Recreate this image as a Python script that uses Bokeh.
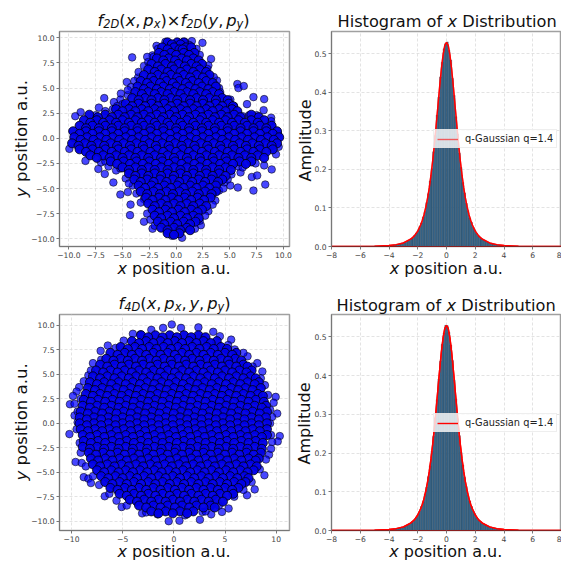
from bokeh.plotting import figure
from bokeh.layouts import gridplot, column
from bokeh.models import Label, FixedTicker, Legend, LegendItem
from bokeh.embed import file_html
from bokeh.resources import INLINE

# ---------- data ----------
edge_2d = [(1.46,9.67),(2.45,9.5),(-1.83,9.2),(-2.2,8.25),(-2.7,8.1),(-4.1,8.05),(3.25,7.9),(-3.0,7.2),(3.0,7.25),(-3.55,6.05),(-4.6,5.6),(3.8,5.75),(4.0,5.0),(5.7,5.4),(5.8,5.0),(6.3,5.2),(-5.15,4.45),(-4.5,4.3),(-6.7,4.0),(-5.2,3.85),(-5.8,3.6),(5.05,3.85),(7.2,4.1),(8.2,3.9),(6.6,3.4),(8.15,2.8),(-7.2,3.05),(-8.9,2.6),(-9.4,2.2),(8.85,2.05),(8.85,1.7),(-9.95,-1.05),(-8.45,-2.25),(-7.25,-3.05),(-6.65,-3.55),(-5.85,-4.4),(-5.2,-5.6),(-4.5,-5.35),(-4.25,-6.6),(-4.3,-7.65),(-4.05,-4.7),(-3.0,-6.05),(-3.0,-8.3),(-2.2,-9.0),(3.65,-6.2),(3.0,-7.25),(2.3,-8.65),(0.55,-9.9),(-0.4,-9.7),(1.75,-9.0),(5.05,-4.7),(5.75,-4.9),(6.0,-3.4),(5.15,-3.6),(7.05,-3.85),(7.55,-3.7),(7.2,-5.2),(8.3,-4.6),(8.2,-2.7),(8.9,-3.1),(9.3,-1.6),(9.55,-0.85),(9.5,0.45),
(-7.5,2.3),(-6.6,2.7),(-5.9,2.9),(-5.5,3.2),(-5.0,3.4),(4.9,3.4),(5.4,3.2),(6.2,2.2),(6.8,2.3),(7.5,2.3),(7.0,1.9),(-7.0,-2.4),(-6.6,-2.3),(-6.3,-2.8),(-5.6,-3.2),(-5.2,-3.0),(5.8,-2.8),(6.2,-2.9),(7.4,-2.5),(-4.7,-4.0),(-4.4,-4.5),(4.5,-4.4),(4.8,-4.1),(-3.7,-5.5),(4.0,-5.2),(4.4,-5.0),(-3.3,-6.4),(3.4,-6.6),(-2.7,-7.5),(2.7,-7.7),(-2.4,-8.1),(-2.0,-8.7),(2.2,-8.2),(-3.5,6.6),(-3.9,5.7),(-4.2,5.1),(-4.5,4.8),(4.1,4.6),(3.6,5.3),(3.5,6.1),(2.9,6.9),(-2.6,7.6),(-2.1,8.1),(2.2,8.3),(1.9,8.9),(-1.7,8.9),(-1.0,9.6),(0.8,9.6),(1.2,9.3)]
rows_2d = [
(9.55,[-0.8,0.1,0.7]),(9.35,[-0.4,0.4]),
(9.05,[-1.3,-0.2,0.9,1.4]),(8.85,[-0.8,0.3,0.6]),
(8.5,[-1.6,-0.5,0.7,1.7]),(8.3,[-1.1,0.0,1.2]),
(7.95,[-1.8,-0.7,0.5,1.6]),(7.75,[-1.2,-0.1,1.0,2.1]),
(7.4,[-2.3,-1.0,0.2,1.4,2.4]),(7.15,[-1.7,-0.4,0.8,1.9]),
(6.85,[-2.6,-1.4,-0.2,1.0,2.2]),(6.6,[-2.0,-0.8,0.4,1.6,2.8]),
(6.3,[-3.0,-1.7,-0.5,0.7,1.9,3.1]),(6.05,[-2.3,-1.1,0.1,1.3,2.5]),
(5.7,[-3.3,-2.1,-0.9,0.3,1.5,2.8]),(5.5,[-2.7,-1.5,-0.3,0.9,2.1,3.4]),
(5.15,[-3.6,-2.4,-1.2,0.0,1.2,2.4,3.7]),(4.9,[-3.0,-1.8,-0.6,0.6,1.8,3.0]),
(4.6,[-3.8,-2.6,-1.4,-0.2,1.0,2.2,3.4]),(4.4,[-3.2,-2.0,-0.8,0.4,1.6,2.8,4.0]),
(4.0,[-4.1,-2.9,-1.7,-0.5,0.7,1.9,3.1,4.3]),(3.8,[-3.5,-2.3,-1.1,0.1,1.3,2.5,3.7,4.8]),
(3.45,[-4.7,-3.5,-2.3,-1.1,0.1,1.3,2.5,3.7,4.9]),(3.2,[-4.1,-2.9,-1.7,-0.5,0.7,1.9,3.1,4.3,5.3]),
(2.9,[-5.6,-4.4,-3.2,-2.0,-0.8,0.4,1.6,2.8,4.0,5.2]),(2.7,[-5.0,-3.8,-2.6,-1.4,-0.2,1.0,2.2,3.4,4.6,5.7]),
(2.35,[-8.1,-6.6,-5.4,-4.2,-3.0,-1.8,-0.6,0.6,1.8,3.0,4.2,5.4,7.0]),(2.1,[-7.3,-6.0,-4.8,-3.6,-2.4,-1.2,0.0,1.2,2.4,3.6,4.8,6.0,7.7]),
(1.8,[-8.6,-7.4,-6.2,-5.0,-3.8,-2.6,-1.4,-0.2,1.0,2.2,3.4,4.6,5.8,7.0,8.2]),(1.55,[-8.0,-6.8,-5.6,-4.4,-3.2,-2.0,-0.8,0.4,1.6,2.8,4.0,5.2,6.4,7.6]),
(1.25,[-9.0,-7.8,-6.6,-5.4,-4.2,-3.0,-1.8,-0.6,0.6,1.8,3.0,4.2,5.4,6.6,7.8,8.9]),(1.0,[-8.4,-7.2,-6.0,-4.8,-3.6,-2.4,-1.2,0.0,1.2,2.4,3.6,4.8,6.0,7.2,8.4]),
(0.7,[-9.6,-8.4,-7.2,-6.0,-4.8,-3.6,-2.4,-1.2,0.0,1.2,2.4,3.6,4.8,6.0,7.2,8.4,9.4]),(0.45,[-9.0,-7.8,-6.6,-5.4,-4.2,-3.0,-1.8,-0.6,0.6,1.8,3.0,4.2,5.4,6.6,7.8,9.0]),
(0.1,[-9.5,-8.3,-7.1,-5.9,-4.7,-3.5,-2.3,-1.1,0.1,1.3,2.5,3.7,4.9,6.1,7.3,8.5,9.6]),(-0.15,[-8.9,-7.7,-6.5,-5.3,-4.1,-2.9,-1.7,-0.5,0.7,1.9,3.1,4.3,5.5,6.7,7.9,9.1]),
(-0.5,[-9.7,-8.5,-7.3,-6.1,-4.9,-3.7,-2.5,-1.3,-0.1,1.1,2.3,3.5,4.7,5.9,7.1,8.3,9.4]),(-0.75,[-9.1,-7.9,-6.7,-5.5,-4.3,-3.1,-1.9,-0.7,0.5,1.7,2.9,4.1,5.3,6.5,7.7,8.9]),
(-1.1,[-9.0,-7.8,-6.6,-5.4,-4.2,-3.0,-1.8,-0.6,0.6,1.8,3.0,4.2,5.4,6.6,7.8,9.0]),(-1.35,[-8.4,-7.2,-6.0,-4.8,-3.6,-2.4,-1.2,0.0,1.2,2.4,3.6,4.8,6.0,7.2,8.4]),
(-1.7,[-8.0,-6.8,-5.6,-4.4,-3.2,-2.0,-0.8,0.4,1.6,2.8,4.0,5.2,6.4,7.6]),(-1.95,[-7.4,-6.2,-5.0,-3.8,-2.6,-1.4,-0.2,1.0,2.2,3.4,4.6,5.8,7.0,8.2]),
(-2.3,[-6.1,-4.9,-3.7,-2.5,-1.3,-0.1,1.1,2.3,3.5,4.7,5.9,7.0]),(-2.55,[-5.5,-4.3,-3.1,-1.9,-0.7,0.5,1.7,2.9,4.1,5.3,6.5]),
(-2.9,[-5.0,-3.8,-2.6,-1.4,-0.2,1.0,2.2,3.4,4.6]),(-3.15,[-4.4,-3.2,-2.0,-0.8,0.4,1.6,2.8,4.0,5.1]),
(-3.5,[-4.4,-3.2,-2.0,-0.8,0.4,1.6,2.8,4.0]),(-3.75,[-3.8,-2.6,-1.4,-0.2,1.0,2.2,3.4,4.6]),
(-4.1,[-3.9,-2.7,-1.5,-0.3,0.9,2.1,3.3,4.3]),(-4.35,[-3.3,-2.1,-0.9,0.3,1.5,2.7,3.9]),
(-4.7,[-3.5,-2.3,-1.1,0.1,1.3,2.5,3.7]),(-4.95,[-2.9,-1.7,-0.5,0.7,1.9,3.1]),
(-5.3,[-3.3,-2.1,-0.9,0.3,1.5,2.7,3.7]),(-5.55,[-2.7,-1.5,-0.3,0.9,2.1,3.3]),
(-5.9,[-2.8,-1.6,-0.4,0.8,2.0,3.2]),(-6.15,[-2.2,-1.0,0.2,1.4,2.6]),
(-6.5,[-2.6,-1.4,-0.2,1.0,2.2]),(-6.75,[-2.0,-0.8,0.4,1.6,2.8]),
(-7.1,[-2.2,-1.0,0.2,1.4,2.4]),(-7.35,[-1.6,-0.4,0.8,2.0]),
(-7.7,[-2.0,-0.8,0.4,1.6]),(-7.95,[-1.4,-0.2,1.0,2.1]),
(-8.3,[-1.7,-0.5,0.7,1.8]),(-8.55,[-1.1,0.1,1.3]),
(-8.9,[-1.4,-0.2,1.0]),(-9.15,[-0.8,0.4,1.3]),
(-9.45,[-0.8,0.3]),(-9.6,[-0.2]),
]
edge_4d = [(-0.2,10.1),(0.7,9.75),(-1.05,9.75),(2.4,9.8),(-2.2,9.55),(3.85,9.35),(-4,9.15),(-3.25,9.1),(-4.9,8.45),(4.5,8.9),(5.6,8.55),(-7.15,7.4),(-6.45,7.95),(5.95,7.55),(7.2,6.85),(8.15,6.15),(-7.9,6.15),(-8.35,4.9),(8.65,5.3),(-9.25,3.7),(-9.5,3.25),(-9.85,2.8),(-10.15,1.95),(-9.7,2),(9.95,2.7),(9.75,2.1),(10.1,1),(9.6,0.65),(10.35,-1.3),(-10.2,-1.1),(-9.7,0.8),(10.15,-1.85),(9.6,-1.9),(9.3,-3.2),(-9.6,-3.95),(-9,-4.05),(-8.8,-5.5),(-8.35,-5.65),(-8.1,-6.1),(8.85,-5.3),(7.9,-6.75),(7.15,-7.35),(-6.75,-7.45),(-5.1,-8.55),(-3.1,-9.2),(-1.6,-9.3),(-0.5,-10),(0.55,-9.95),(2.55,-9.85),(3.65,-9.3),(4.7,-9.05),(5.35,-8.7),(2.8,-9.05),
(-9.4,0.1),(-9.5,-0.6),(-9.2,-2.0),(-9.1,-3.0),(-8.6,-4.4),(-7.9,-5.4),(-7.3,-6.3),(-6.3,-7.2),(-5.6,-7.9),(-4.6,-8.4),(-2.7,-9.1),(1.1,-9.4),(3.1,-9.0),(4.4,-8.4),(5.9,-7.5),(6.8,-6.8),(7.6,-6.0),(8.4,-4.7),(9.0,-3.7),(9.5,-2.6),(9.5,-1.2),(9.4,0.0),(9.4,1.4),(9.2,2.9),(8.9,3.9),(8.5,4.6),(7.7,5.8),(6.8,7.2),(5.3,8.0),(-5.7,7.7),(-7.1,6.5),(-8.1,5.4),(-8.8,4.3),(-9.1,2.5),(-9.4,1.2)]
rows_4d = [
(9.0,[-3.2,-1.8,-0.4,1.0,2.4]),(8.8,[-2.5,-1.1,0.3,1.7,3.1]),
(8.4,[-4.1,-2.7,-1.3,0.1,1.5,2.9,4.2]),(8.2,[-3.4,-2.0,-0.6,0.8,2.2,3.6]),
(7.8,[-5.2,-3.8,-2.4,-1.0,0.4,1.8,3.2,4.6]),(7.6,[-4.5,-3.1,-1.7,-0.3,1.1,2.5,3.9,5.2]),
(7.2,[-6.2,-4.8,-3.4,-2.0,-0.6,0.8,2.2,3.6,5.0,6.1]),(7.0,[-5.5,-4.1,-2.7,-1.3,0.1,1.5,2.9,4.3,5.7]),
(6.6,[-6.6,-5.2,-3.8,-2.4,-1.0,0.4,1.8,3.2,4.6,6.0]),(6.4,[-5.9,-4.5,-3.1,-1.7,-0.3,1.1,2.5,3.9,5.3,6.6]),
(6.0,[-7.2,-5.8,-4.4,-3.0,-1.6,-0.2,1.2,2.6,4.0,5.4,6.8]),(5.8,[-6.5,-5.1,-3.7,-2.3,-0.9,0.5,1.9,3.3,4.7,6.1,7.2]),
(5.4,[-7.6,-6.2,-4.8,-3.4,-2.0,-0.6,0.8,2.2,3.6,5.0,6.4,7.6]),(5.2,[-6.9,-5.5,-4.1,-2.7,-1.3,0.1,1.5,2.9,4.3,5.7,7.1]),
(4.8,[-7.9,-6.5,-5.1,-3.7,-2.3,-0.9,0.5,1.9,3.3,4.7,6.1,7.5]),(4.6,[-7.2,-5.8,-4.4,-3.0,-1.6,-0.2,1.2,2.6,4.0,5.4,6.8,8.0]),
(4.2,[-8.2,-6.8,-5.4,-4.0,-2.6,-1.2,0.2,1.6,3.0,4.4,5.8,7.2,8.3]),(4.0,[-7.5,-6.1,-4.7,-3.3,-1.9,-0.5,0.9,2.3,3.7,5.1,6.5,7.9]),
(3.6,[-8.4,-7.0,-5.6,-4.2,-2.8,-1.4,0.0,1.4,2.8,4.2,5.6,7.0,8.5]),(3.4,[-7.7,-6.3,-4.9,-3.5,-2.1,-0.7,0.7,2.1,3.5,4.9,6.3,7.7]),
(3.0,[-8.6,-7.2,-5.8,-4.4,-3.0,-1.6,-0.2,1.2,2.6,4.0,5.4,6.8,8.2]),(2.8,[-7.9,-6.5,-5.1,-3.7,-2.3,-0.9,0.5,1.9,3.3,4.7,6.1,7.5,8.7]),
(2.4,[-8.8,-7.4,-6.0,-4.6,-3.2,-1.8,-0.4,1.0,2.4,3.8,5.2,6.6,8.0]),(2.2,[-8.1,-6.7,-5.3,-3.9,-2.5,-1.1,0.3,1.7,3.1,4.5,5.9,7.3,8.8]),
(1.8,[-8.9,-7.5,-6.1,-4.7,-3.3,-1.9,-0.5,0.9,2.3,3.7,5.1,6.5,7.9,9.0]),(1.6,[-8.2,-6.8,-5.4,-4.0,-2.6,-1.2,0.2,1.6,3.0,4.4,5.8,7.2,8.6]),
(1.2,[-9.1,-7.7,-6.3,-4.9,-3.5,-2.1,-0.7,0.7,2.1,3.5,4.9,6.3,7.7,9.1]),(1.0,[-8.4,-7.0,-5.6,-4.2,-2.8,-1.4,0.0,1.4,2.8,4.2,5.6,7.0,8.4]),
(0.6,[-9.2,-7.8,-6.4,-5.0,-3.6,-2.2,-0.8,0.6,2.0,3.4,4.8,6.2,7.6,9.0]),(0.4,[-8.5,-7.1,-5.7,-4.3,-2.9,-1.5,-0.1,1.3,2.7,4.1,5.5,6.9,8.3]),
(0.0,[-9.2,-7.8,-6.4,-5.0,-3.6,-2.2,-0.8,0.6,2.0,3.4,4.8,6.2,7.6,9.1]),(-0.2,[-8.5,-7.1,-5.7,-4.3,-2.9,-1.5,-0.1,1.3,2.7,4.1,5.5,6.9,8.3]),
(-0.6,[-9.1,-7.7,-6.3,-4.9,-3.5,-2.1,-0.7,0.7,2.1,3.5,4.9,6.3,7.7,9.1]),(-0.8,[-8.4,-7.0,-5.6,-4.2,-2.8,-1.4,0.0,1.4,2.8,4.2,5.6,7.0,8.4]),
(-1.2,[-8.9,-7.5,-6.1,-4.7,-3.3,-1.9,-0.5,0.9,2.3,3.7,5.1,6.5,7.9,9.1]),(-1.4,[-8.2,-6.8,-5.4,-4.0,-2.6,-1.2,0.2,1.6,3.0,4.4,5.8,7.2,8.6]),
(-1.8,[-8.8,-7.4,-6.0,-4.6,-3.2,-1.8,-0.4,1.0,2.4,3.8,5.2,6.6,8.0]),(-2.0,[-8.1,-6.7,-5.3,-3.9,-2.5,-1.1,0.3,1.7,3.1,4.5,5.9,7.3,8.7]),
(-2.4,[-8.9,-7.5,-6.1,-4.7,-3.3,-1.9,-0.5,0.9,2.3,3.7,5.1,6.5,7.9]),(-2.6,[-8.2,-6.8,-5.4,-4.0,-2.6,-1.2,0.2,1.6,3.0,4.4,5.8,7.2,8.6]),
(-3.0,[-8.3,-6.9,-5.5,-4.1,-2.7,-1.3,0.1,1.5,2.9,4.3,5.7,7.1,8.5]),(-3.2,[-7.6,-6.2,-4.8,-3.4,-2.0,-0.6,0.8,2.2,3.6,5.0,6.4,7.8]),
(-3.6,[-8.1,-6.7,-5.3,-3.9,-2.5,-1.1,0.3,1.7,3.1,4.5,5.9,7.3,8.3]),(-3.8,[-7.4,-6.0,-4.6,-3.2,-1.8,-0.4,1.0,2.4,3.8,5.2,6.6,8.0]),
(-4.2,[-7.9,-6.5,-5.1,-3.7,-2.3,-0.9,0.5,1.9,3.3,4.7,6.1,7.5]),(-4.4,[-7.2,-5.8,-4.4,-3.0,-1.6,-0.2,1.2,2.6,4.0,5.4,6.8,8.1]),
(-4.8,[-7.5,-6.1,-4.7,-3.3,-1.9,-0.5,0.9,2.3,3.7,5.1,6.5,7.8]),(-5.0,[-6.8,-5.4,-4.0,-2.6,-1.2,0.2,1.6,3.0,4.4,5.8,7.2]),
(-5.4,[-7.1,-5.7,-4.3,-2.9,-1.5,-0.1,1.3,2.7,4.1,5.5,6.9]),(-5.6,[-6.4,-5.0,-3.6,-2.2,-0.8,0.6,2.0,3.4,4.8,6.2,7.3]),
(-6.0,[-6.7,-5.3,-3.9,-2.5,-1.1,0.3,1.7,3.1,4.5,5.9,7.0]),(-6.2,[-6.0,-4.6,-3.2,-1.8,-0.4,1.0,2.4,3.8,5.2,6.6]),
(-6.6,[-6.2,-4.8,-3.4,-2.0,-0.6,0.8,2.2,3.6,5.0,6.3]),(-6.8,[-5.5,-4.1,-2.7,-1.3,0.1,1.5,2.9,4.3,5.7]),
(-7.2,[-5.3,-3.9,-2.5,-1.1,0.3,1.7,3.1,4.5,5.8]),(-7.4,[-4.6,-3.2,-1.8,-0.4,1.0,2.4,3.8,5.2]),
(-7.8,[-4.3,-2.9,-1.5,-0.1,1.3,2.7,4.1]),(-8.0,[-3.6,-2.2,-0.8,0.6,2.0,3.4,4.8]),
(-8.4,[-3.4,-2.0,-0.6,0.8,2.2,3.6]),(-8.6,[-2.7,-1.3,0.1,1.5,2.9,4.0]),
(-9.0,[-2.2,-0.8,0.6,1.9]),(-9.2,[-1.5,-0.1,1.3]),
]

bin_centers = [0.06,0.18,0.30,0.42,0.54,0.66,0.78,0.90,1.02,1.14,1.26,1.38,1.50,1.62,1.74,1.86,1.98,2.10,2.22,2.34,2.46,2.58,2.70,2.82,2.94,3.06,3.18,3.30,3.42,3.54,3.66,3.78,3.90,4.02,4.14,4.26,4.38,4.50,4.62,4.74,4.86,4.98]
bars_top_pos = [0.531,0.509,0.484,0.436,0.392,0.337,0.292,0.242,0.205,0.166,0.139,0.112,0.093,0.074,0.063,0.050,0.042,0.034,0.028,0.024,0.020,0.017,0.014,0.012,0.010,0.0085,0.0072,0.0062,0.0053,0.0046,0.004,0.0034,0.003,0.0026,0.0023,0.002,0.0018,0.0016,0.0014,0.0012,0.0011,0.001]
bars_top_neg = [0.527,0.513,0.478,0.440,0.388,0.341,0.288,0.246,0.202,0.170,0.137,0.114,0.091,0.076,0.061,0.052,0.041,0.035,0.029,0.023,0.020,0.016,0.014,0.011,0.010,0.0088,0.0070,0.0063,0.0052,0.0047,0.0039,0.0035,0.0029,0.0027,0.0022,0.002,0.0017,0.0016,0.0013,0.0012,0.001,0.001]
bars_bot_pos = [0.529,0.512,0.479,0.439,0.389,0.340,0.289,0.245,0.203,0.169,0.137,0.114,0.091,0.076,0.062,0.051,0.043,0.033,0.028,0.024,0.019,0.017,0.014,0.012,0.010,0.0083,0.0073,0.0061,0.0054,0.0045,0.004,0.0035,0.003,0.0025,0.0023,0.002,0.0017,0.0015,0.0014,0.0012,0.0011,0.001]
bars_bot_neg = [0.530,0.510,0.481,0.437,0.391,0.338,0.291,0.243,0.205,0.167,0.139,0.112,0.093,0.074,0.062,0.050,0.042,0.034,0.028,0.024,0.020,0.016,0.014,0.012,0.009,0.0086,0.0071,0.0062,0.0053,0.0046,0.0041,0.0034,0.0029,0.0026,0.0023,0.0019,0.0018,0.0016,0.0013,0.0012,0.0011,0.001]
curve_x = [-8,-6,-5,-4,-3.5,-3,-2.5,-2.25,-2,-1.8,-1.68,-1.56,-1.44,-1.32,-1.2,-1.08,-0.96,-0.84,-0.72,-0.6,-0.48,-0.36,-0.24,-0.12,0,0.12,0.24,0.36,0.48,0.6,0.72,0.84,0.96,1.08,1.2,1.32,1.44,1.56,1.68,1.8,2,2.25,2.5,3,3.5,4,5,6,8]
curve_y = [0.0001,0.0004,0.001,0.0027,0.0049,0.0092,0.019,0.027,0.040,0.056,0.068,0.083,0.102,0.125,0.152,0.185,0.223,0.266,0.314,0.364,0.414,0.460,0.497,0.522,0.530,0.522,0.497,0.460,0.414,0.364,0.314,0.266,0.223,0.185,0.152,0.125,0.102,0.083,0.068,0.056,0.040,0.027,0.019,0.0092,0.0049,0.0027,0.001,0.0004,0.0001]

ticks_2d = [-10,-7.5,-5,-2.5,0,2.5,5,7.5,10]
tick_labels_2d = ["−10.0","−7.5","−5.0","−2.5","0.0","2.5","5.0","7.5","10.0"]
ticks_4d_x = [-10,-5,0,5,10]
tick_labels_4d_x = ["−10","−5","0","5","10"]
ticks_hist_x = [-8,-6,-4,-2,0,2,4,6,8]
tick_labels_hist_x = ["−8","−6","−4","−2","0","2","4","6","8"]
ticks_hist_y = [0,0.1,0.2,0.3,0.4,0.5]
tick_labels_hist_y = ["0.0","0.1","0.2","0.3","0.4","0.5"]

legend_text = "q-Gaussian q=1.4"

# ---------- helpers ----------
FONT = "DejaVu Sans"
ADV = {'x':.592,'y':.592,'p':.635,'f':.352,'2':.636,'4':.636,'D':.770,'(':.39,')':.39,',':.318,' ':.318,'×':.838,
       'o':.612,'s':.521,'i':.278,'t':.392,'n':.634,'a':.613,'.':.318,'u':.634,'H':.752,'g':.635,'r':.411,'m':.974,
       'b':.635,'A':.684,'l':.278,'d':.635,'e':.615}
W, H = 561, 562
BASE_FIX = 0.33

# a transparent figure laid over the whole page carries the mixed-style titles and axis labels
overlay = figure(width=W, height=H, x_range=(0, W), y_range=(0, H), output_backend="svg", toolbar_location=None,
                 min_border=0, margin=(-H, 0, 0, 0), x_axis_location=None, y_axis_location=None,
                 background_fill_color=None, border_fill_color=None, outline_line_color=None)
overlay.grid.visible = False

def text_run(x, y, pieces, size, vertical=False):
    """pieces: (text, italic, scale, raise); x,y = page px of baseline start"""
    pos = 0.0
    for txt, ital, scale, lift in pieces:
        s = size*scale
        lead = len(txt) - len(txt.lstrip(" "))
        pos += lead*ADV[' ']*s
        body = txt.strip(" ")
        if body:
            fix = BASE_FIX*s
            if vertical:
                sx, sy = x - lift - fix, (H - y) + pos
            else:
                sx, sy = x + pos, (H - y) + lift + fix
            overlay.add_layout(Label(x=sx, y=sy, x_units="screen", y_units="screen", text=body, text_font=FONT,
                                     text_font_size=f"{s:.2f}px", text_font_style="italic" if ital else "normal",
                                     text_color="#111111", text_baseline="alphabetic", text_align="left",
                                     angle=1.5708 if vertical else 0))
        pos += sum(ADV.get(c,.6) for c in txt.lstrip(" "))*s

def base(width, height, bl, br, bt, bb, xr, yr, xt, xl, yt, yl):
    p = figure(width=width, height=height, x_range=xr, y_range=yr, output_backend="svg", toolbar_location=None,
               min_border_left=bl, min_border_right=br, min_border_top=bt, min_border_bottom=bb)
    p.outline_line_color = "#a0a0a0"; p.outline_line_width = 1.5
    for ax, t, l in ((p.xaxis[0], xt, xl), (p.yaxis[0], yt, yl)):
        ax.ticker = FixedTicker(ticks=t)
        ax.major_label_overrides = dict(zip(t, l))
        ax.minor_tick_line_color = None
        ax.major_tick_in = 0; ax.major_tick_out = 3
        ax.major_label_text_font = FONT; ax.major_label_text_font_size = "7.6px"
        ax.major_label_text_color = "#444444"
        ax.major_label_standoff = 2
        ax.axis_line_color = "#777777"; ax.major_tick_line_color = "#777777"
    p.grid.grid_line_color = "#dcdcdc"; p.grid.grid_line_dash = "3 2"; p.grid.grid_line_width = 0.8
    p.background_fill_color = "white"
    return p

def scatter_panel(p, edge, rows):
    p.scatter([a for a, _ in edge], [b for _, b in edge], size=7.6, fill_color="#0000ff", fill_alpha=0.72,
              line_color="#000000", line_alpha=0.6, line_width=0.9)
    xs = [x for _, r in rows for x in r]
    ys = [y for y, r in rows for _ in r]
    p.scatter(xs, ys, size=9, fill_color="#0000e6", fill_alpha=0.97, line_color="#000000", line_alpha=0.78, line_width=1.0)

def hist_panel(p, top_neg, top_pos, swatch_alpha, lx, ly):
    xs = [-c for c in bin_centers] + bin_centers
    hs = top_neg + top_pos
    p.vbar(x=xs, top=hs, bottom=0, width=0.12, fill_color="#3b6c92", line_color="#12202c", line_alpha=0.55, line_width=0.5)
    swatch = p.line(curve_x, curve_y, line_color="#ff0000", line_width=1.4, line_alpha=swatch_alpha)
    p.line(curve_x, curve_y, line_color="#ff0000", line_width=1.4)
    p.xaxis[0].axis_line_color = "#8a1f1f"
    leg = Legend(items=[LegendItem(label=legend_text, renderers=[swatch])], location=(lx, ly),
                 background_fill_color="white", background_fill_alpha=0.8, border_line_color="#dddddd",
                 label_text_font=FONT, label_text_font_size="9.8px", label_text_color="#222222",
                 glyph_width=21, glyph_height=10, label_height=10, label_standoff=7,
                 padding=3, margin=0, spacing=0)
    p.add_layout(leg, "center")

X = ("x", True, 1, 0)
POS = (" position a.u.", False, 1, 0)
SUB = -2.4
COMMA = (",", False, 1, 0)
GAP = (" ", False, .55, 0)

# ---------- panels ----------
p1 = base(295, 290, 59, 6, 31, 44, (-10.87,10.56), (-10.77,10.63), ticks_2d, tick_labels_2d, ticks_2d, tick_labels_2d)
scatter_panel(p1, edge_2d, rows_2d)
text_run(97, 25, [("f",True,1,0),("2D",True,.7,SUB),("(",False,1,0),("x",True,1,0),COMMA,GAP,("p",True,1,0),("x",True,.7,SUB),(")",False,1,0),("×",False,1,0),("f",True,1,0),("2D",True,.7,SUB),("(",False,1,0),("y",True,1,0),COMMA,GAP,("p",True,1,0),("y",True,.7,SUB),(")",False,1,0)], 16.3)
text_run(117, 273.5, [X, POS], 16)
text_run(26, 196.7, [("y",True,1,0), POS], 16.6, vertical=True)

p2 = base(266, 290, 36, 0, 31, 44, (-8,8), (0,0.558), ticks_hist_x, tick_labels_hist_x, ticks_hist_y, tick_labels_hist_y)
hist_panel(p2, bars_top_neg, bars_top_pos, 0.6, 102, 98)
text_run(337, 26.7, [("Histogram of ",False,1,0),("x",True,1,0),(" Distribution",False,1,0)], 16.2)
text_run(389.3, 273.5, [X, POS], 16)
text_run(310, 181, [("Amplitude",False,1,0)], 16, vertical=True)

p3 = base(295, 272, 59, 6, 24, 32, (-11.17,11.3), (-10.95,11.12), ticks_4d_x, tick_labels_4d_x, ticks_2d, tick_labels_2d)
scatter_panel(p3, edge_4d, rows_4d)
text_run(118, 308, [("f",True,1,0),("4D",True,.7,SUB),("(",False,1,0),("x",True,1,0),COMMA,GAP,("p",True,1,0),("x",True,.7,SUB),COMMA,GAP,("y",True,1,0),COMMA,GAP,("p",True,1,0),("y",True,.7,SUB),(")",False,1,0)], 16.3)
text_run(117, 556.7, [X, POS], 16)
text_run(26, 480, [("y",True,1,0), POS], 16.6, vertical=True)

p4 = base(266, 272, 36, 0, 24, 32, (-8,8), (0,0.558), ticks_hist_x, tick_labels_hist_x, ticks_hist_y, tick_labels_hist_y)
hist_panel(p4, bars_bot_neg, bars_bot_pos, 1.0, 102, 98)
text_run(336, 310, [("Histogram of ",False,1,0),("x",True,1,0),(" Distribution",False,1,0)], 16.2)
text_run(388.7, 556.7, [X, POS], 16)
text_run(309.3, 464, [("Amplitude",False,1,0)], 16, vertical=True)

grid = gridplot([[p1, p2], [p3, p4]], toolbar_location=None, merge_tools=False)
page = column(grid, overlay, spacing=0)
open("out.html", "w").write(file_html(page, INLINE))
